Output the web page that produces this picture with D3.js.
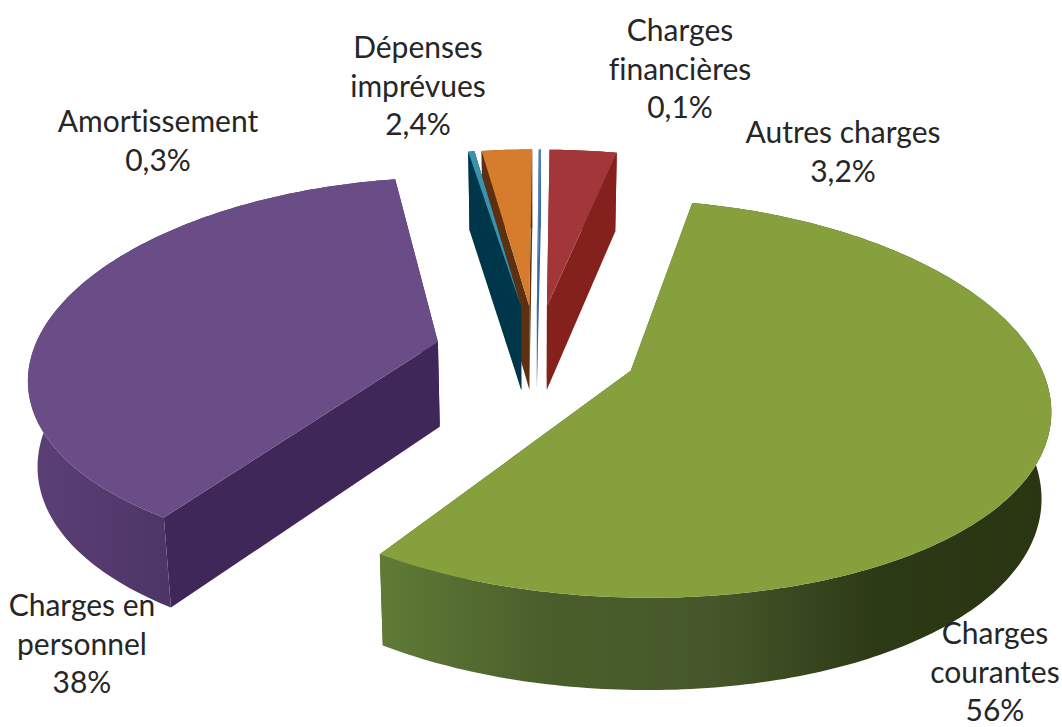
<!DOCTYPE html>
<html lang="fr">
<head>
  <meta charset="UTF-8">
  <title>Répartition des charges</title>
  <script src="https://cdn.jsdelivr.net/npm/d3@7/dist/d3.min.js"></script>
  <style>
    html, body { margin: 0; background: #fff; }
    svg { display: block; }
    text { font-family: Lato, "Open Sans", sans-serif; font-size: 30px; fill: #262626; font-variant-ligatures: none; }
  </style>
</head>
<body>
<div class="chart"></div>
<script>
  // pie order, clockwise from 12 o'clock
  const categories = ['Autres charges', 'Charges courantes', 'Charges en personnel', 'Amortissement', 'Dépenses imprévues', 'Charges financières'];
  const values = [3.2, 56, 38, 0.3, 2.4, 0.1];
  const labelLines = [['Autres charges'], ['Charges', 'courantes'], ['Charges en', 'personnel'], ['Amortissement'], ['Dépenses', 'imprévues'], ['Charges', 'financières']];

  const topColors = ['#a33638', '#85a03d', '#6a4c87', '#3a93ad', '#d57d2c', '#4f81bd'];
  const wallColors = ['#84211d', '#4a5c28', '#3f2859', '#00364a', '#5c3010', '#3f6a9e'];
  const sideStops = [null, ['#607b36', '#4a5e2b', '#46582a', '#2d3a16', '#2a3512'], ['#5b3f75', '#4d3567'], null, null, null];
  const labelCenters = [[843, 143], [995, 644], [82, 616], [158, 132], [418, 58], [680, 41]];

  const size = {w: 1062, h: 727};
  const cam = {cx: 536, cy: 352, rx: 405, ry: 190, kx: 0.165, ky: 0.138, depth: 85, shrink: 0.981, explode: 0.25, rot: 0.7 * Math.PI / 180};
  const lineGap = 38.5;

  const pie = d3.pie().sort(null).startAngle(cam.rot).endAngle(cam.rot + 2 * Math.PI);
  const arcs = pie(values);
  const line = d3.line();

  // flat pie coords -> screen, with a little perspective (far side smaller)
  function project(u, v, bottom) {
    const w = 1 / (1 - cam.ky * v);
    let x = cam.cx + cam.rx * u / (1 - cam.kx * v);
    let y = cam.cy + cam.ry * v * w;
    if (bottom) {
      x = cam.cx + (x - cam.cx) * cam.shrink;
      y += cam.depth * Math.sqrt(w);
    }
    return [x, y];
  }

  function slicePoints(d) {
    const mid = (d.startAngle + d.endAngle) / 2;
    const ox = cam.explode * Math.sin(mid), oy = -cam.explode * Math.cos(mid);
    const n = Math.max(2, Math.ceil((d.endAngle - d.startAngle) * 60));
    const rim = d3.range(n + 1).map(i => {
      const a = d.startAngle + (d.endAngle - d.startAngle) * i / n;
      return [ox + Math.sin(a), oy - Math.cos(a)];
    });
    return {apex: [ox, oy], rim: rim};
  }

  const svg = d3.select('.chart').append('svg')
    .attr('width', size.w)
    .attr('height', size.h);
  const defs = svg.append('defs');

  // small slices first, the big ones go on top
  const drawOrder = [0, 5, 4, 3, 2, 1];

  drawOrder.forEach(i => {
    const p = slicePoints(arcs[i]);
    const g = svg.append('g').attr('class', 'slice').attr('data-name', categories[i]);
    const top = q => project(q[0], q[1], false);
    const bot = q => project(q[0], q[1], true);
    const first = p.rim[0], last = p.rim[p.rim.length - 1];

    // radial walls
    [first, last].forEach(q => {
      g.append('path')
        .attr('d', line([top(p.apex), top(q), bot(q), bot(p.apex)]) + 'Z')
        .attr('fill', wallColors[i]);
    });

    // outer wall
    let sideFill = wallColors[i];
    if (sideStops[i]) {
      const id = 'side' + i;
      const grad = defs.append('linearGradient').attr('id', id)
        .attr('gradientUnits', 'userSpaceOnUse')
        .attr('x1', i === 1 ? 380 : 30).attr('x2', i === 1 ? 1040 : 175)
        .attr('y1', 0).attr('y2', 0);
      sideStops[i].forEach((c, j) => {
        grad.append('stop')
          .attr('offset', j / (sideStops[i].length - 1))
          .attr('stop-color', c);
      });
      sideFill = `url(#${id})`;
    }
    g.append('path')
      .attr('d', line(p.rim.map(top).concat(p.rim.slice().reverse().map(bot))) + 'Z')
      .attr('fill', sideFill);

    // top face
    g.append('path')
      .attr('d', line([top(p.apex)].concat(p.rim.map(top))) + 'Z')
      .attr('fill', topColors[i]);
  });

  // labels
  const labels = svg.append('g').selectAll('text')
    .data(arcs)
    .enter()
    .append('text')
    .attr('text-anchor', 'middle')
    .attr('x', (d, i) => labelCenters[i][0])
    .attr('y', (d, i) => labelCenters[i][1]);

  labels.each(function(d, i) {
    const rows = labelLines[i].concat([String(values[i]).replace('.', ',') + '%']);
    d3.select(this).selectAll('tspan')
      .data(rows)
      .enter()
      .append('tspan')
      .attr('x', labelCenters[i][0])
      .attr('dy', (r, j) => j === 0 ? 0 : lineGap)
      .text(r => r);
  });
</script>
</body>
</html>
